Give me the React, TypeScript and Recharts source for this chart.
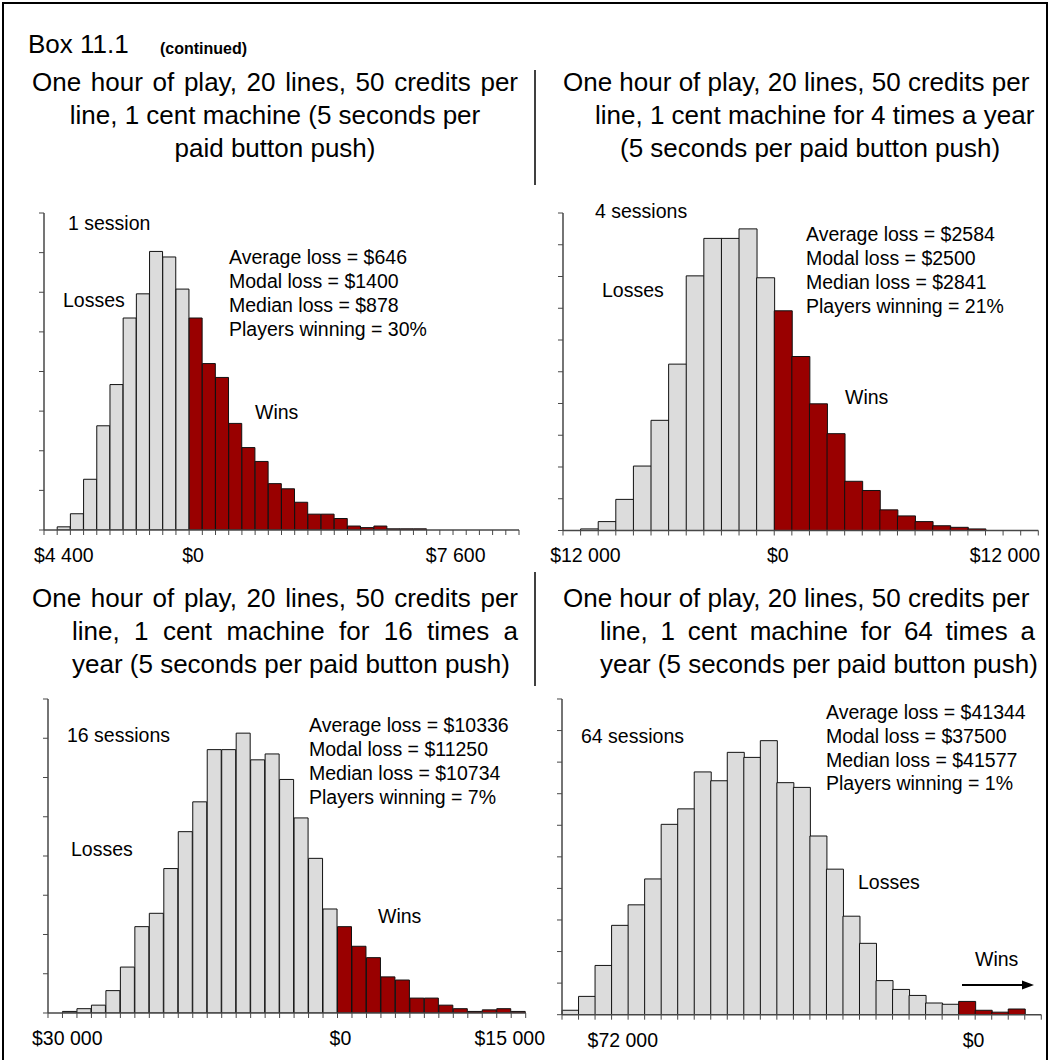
import React from "react";
import { Bar, BarChart, Cell, XAxis, YAxis } from "recharts";

const FONT = '"Liberation Sans", Arial, Helvetica, sans-serif';
const LOSS_FILL = "#dcdcdc";
const WIN_FILL = "#990000";
const AXIS = "#474747";

// bar heights per bin (units of one y tick); 0 = no bar
const oneSession = [
  0, 0.08, 0.41, 1.28, 2.63, 3.67, 5.35, 5.96, 7.03, 6.89, 6.08, 5.35, 4.2,
  3.85, 2.69, 2.08, 1.73, 1.17, 1.04, 0.7, 0.4, 0.4, 0.29, 0.1, 0.06, 0.1,
  0.03, 0.03, 0.03, 0, 0, 0, 0, 0, 0, 0,
];
const fourSessions = [
  0, 0.05, 0.28, 0.98, 2.03, 3.47, 5.24, 8.02, 9.2, 9.2, 9.5, 7.96, 6.92,
  5.48, 3.99, 3.05, 1.55, 1.26, 0.65, 0.46, 0.28, 0.15, 0.1, 0.05, 0, 0, 0,
];
const sixteenSessions = [
  0, 0.04, 0.11, 0.2, 0.57, 1.17, 2.2, 2.54, 3.68, 4.62, 5.38, 6.71, 6.71,
  7.13, 6.45, 6.6, 5.95, 4.97, 3.94, 2.65, 2.2, 1.7, 1.41, 0.92, 0.84, 0.38,
  0.38, 0.2, 0.11, 0.04, 0.08, 0.11, 0.04,
];
const sixtyFourSessions = [
  0.14, 0.58, 1.56, 2.83, 3.48, 4.3, 6.03, 6.52, 7.69, 7.41, 8.31, 8.15, 8.68,
  7.35, 7.2, 5.66, 4.61, 3.12, 2.26, 1.08, 0.8, 0.61, 0.37, 0.33, 0.42, 0.14,
  0.08, 0.18, 0,
];

// first bin that counts as a win (red)
const firstWin1 = 11;
const firstWin4 = 12;
const firstWin16 = 20;
const firstWin64 = 24;

// y ticks (no labels shown)
const yTicks8 = [0, 1, 2, 3, 4, 5, 6, 7, 8];
const yTicks10 = [0, 1, 2, 3, 4, 5, 6, 7, 8, 9, 10];

// x tick labels, positioned in bin units
const xLabels1 = [
  { at: 1.5, text: "$4 400" },
  { at: 11.3, text: "$0" },
  { at: 31.2, text: "$7 600" },
];
const xLabels4 = [
  { at: 1.27, text: "$12 000" },
  { at: 12.2, text: "$0" },
  { at: 25.1, text: "$12 000" },
];
const xLabels16 = [
  { at: 1.33, text: "$30 000" },
  { at: 20.2, text: "$0" },
  { at: 31.9, text: "$15 000" },
];
const xLabels64 = [
  { at: 3.68, text: "$72 000" },
  { at: 24.9, text: "$0" },
];

type Label = { at: number; text: string };

type PanelProps = {
  left: number;
  top: number;
  plotW: number;
  plotH: number;
  counts: number[];
  firstWin: number;
  yTicks: number[];
  labels: Label[];
};

const noText = () => "";

function Panel({ left, top, plotW, plotH, counts, firstWin, yTicks, labels }: PanelProps) {
  const yW = 8;
  const ml = 36;
  const mt = 2;
  const mr = 40;
  const nBins = counts.length;
  const rows = counts.map((v, i) => ({ bin: i, v: v > 0 ? v : null }));
  const gridTicks = counts.map((_, i) => i).concat([nBins]);
  const labelAt = labels.map((l) => l.at);

  return (
    <div style={{ position: "absolute", left: left - yW - ml, top: top - mt }}>
      <BarChart
        width={plotW + yW + ml + mr}
        height={plotH + mt + 10 + 30}
        data={rows}
        margin={{ top: mt, right: mr, bottom: 0, left: ml }}
        barCategoryGap={0}
        barGap={0}
      >
        <XAxis xAxisId="a_bins" dataKey="bin" type="category" hide height={0} />
        <XAxis
          xAxisId="b_grid"
          dataKey="bin"
          type="number"
          domain={[0, nBins]}
          ticks={gridTicks}
          allowDataOverflow
          interval={0}
          tickFormatter={noText}
          tickSize={5}
          height={10}
          axisLine={{ stroke: AXIS, strokeWidth: 1.5 }}
          tickLine={{ stroke: AXIS, strokeWidth: 1 }}
        />
        <XAxis
          xAxisId="c_labels"
          dataKey="bin"
          type="number"
          domain={[0, nBins]}
          ticks={labelAt}
          allowDataOverflow
          interval={0}
          axisLine={false}
          tickLine={false}
          height={30}
          tickFormatter={(v: number) => labels.find((l) => l.at === v)?.text ?? ""}
          tick={{ fill: "#000", fontSize: 19.5, fontFamily: FONT }}
        />
        <YAxis
          type="number"
          domain={[0, yTicks[yTicks.length - 1]]}
          ticks={yTicks}
          allowDataOverflow
          interval={0}
          tickFormatter={noText}
          tickSize={5}
          width={yW}
          axisLine={{ stroke: AXIS, strokeWidth: 1.5 }}
          tickLine={{ stroke: AXIS, strokeWidth: 1 }}
        />
        <Bar
          xAxisId="a_bins"
          dataKey="v"
          stroke="#111"
          strokeWidth={1}
          isAnimationActive={false}
        >
          {rows.map((r) => (
            <Cell key={r.bin} fill={r.bin >= firstWin ? WIN_FILL : LOSS_FILL} />
          ))}
        </Bar>
      </BarChart>
    </div>
  );
}

const titleStyle: React.CSSProperties = {
  position: "absolute",
  fontFamily: FONT,
  fontSize: 26,
  lineHeight: "32px",
  color: "#000",
};

function TitleLine({ left, y, width, text, align }: { left: number; y: number; width?: number; text: string; align?: "center" | "justify" }) {
  return (
    <div
      style={{
        ...titleStyle,
        left,
        top: y - 16,
        width,
        textAlign: align === "justify" ? "justify" : align,
        textAlignLast: align === "justify" ? "justify" : undefined,
        whiteSpace: align === "justify" ? "normal" : "nowrap",
      }}
    >
      {text}
    </div>
  );
}

type Note = { x: number; y: number; text: string };

const annotations: Note[] = [
  { x: 68, y: 230, text: "1 session" },
  { x: 63, y: 307, text: "Losses" },
  { x: 255, y: 419, text: "Wins" },
  { x: 229, y: 264, text: "Average loss = $646" },
  { x: 229, y: 288, text: "Modal loss = $1400" },
  { x: 229, y: 312, text: "Median loss = $878" },
  { x: 229, y: 336, text: "Players winning = 30%" },

  { x: 595, y: 218, text: "4 sessions" },
  { x: 602, y: 297, text: "Losses" },
  { x: 845, y: 404, text: "Wins" },
  { x: 806, y: 241, text: "Average loss = $2584" },
  { x: 806, y: 265, text: "Modal loss = $2500" },
  { x: 806, y: 289, text: "Median loss = $2841" },
  { x: 806, y: 313, text: "Players winning = 21%" },

  { x: 67, y: 742, text: "16 sessions" },
  { x: 71, y: 856, text: "Losses" },
  { x: 378, y: 923, text: "Wins" },
  { x: 309, y: 732, text: "Average loss = $10336" },
  { x: 309, y: 756, text: "Modal loss = $11250" },
  { x: 309, y: 780, text: "Median loss = $10734" },
  { x: 309, y: 804, text: "Players winning = 7%" },

  { x: 581, y: 743, text: "64 sessions" },
  { x: 858, y: 889, text: "Losses" },
  { x: 975, y: 966, text: "Wins" },
  { x: 826, y: 719, text: "Average loss = $41344" },
  { x: 826, y: 743, text: "Modal loss = $37500" },
  { x: 826, y: 767, text: "Median loss = $41577" },
  { x: 826, y: 790, text: "Players winning = 1%" },
];

export default function App() {
  return (
    <div
      style={{
        position: "absolute",
        left: 0,
        top: 0,
        width: 1050,
        height: 1060,
        background: "#fff",
        overflow: "hidden",
        fontFamily: FONT,
      }}
    >
      <Panel left={43.5} top={213} plotW={475} plotH={317} counts={oneSession} firstWin={firstWin1} yTicks={yTicks8} labels={xLabels1} />
      <Panel left={562.7} top={212.7} plotW={475.3} plotH={317.5} counts={fourSessions} firstWin={firstWin4} yTicks={yTicks10} labels={xLabels4} />
      <Panel left={48.3} top={699.3} plotW={477.7} plotH={314} counts={sixteenSessions} firstWin={firstWin16} yTicks={yTicks8} labels={xLabels16} />
      <Panel left={561.7} top={699.3} plotW={479.3} plotH={315.7} counts={sixtyFourSessions} firstWin={firstWin64} yTicks={yTicks10} labels={xLabels64} />

      <TitleLine left={32} y={82} width={486} align="justify" text="One hour of play, 20 lines, 50 credits per" />
      <TitleLine left={32} y={115} width={486} align="center" text="line, 1 cent machine (5 seconds per" />
      <TitleLine left={32} y={148} width={486} align="center" text="paid button push)" />

      <TitleLine left={563} y={82} text="One hour of play, 20 lines, 50 credits per" />
      <TitleLine left={595} y={115} text="line, 1 cent machine for 4 times a year" />
      <TitleLine left={620} y={148} text="(5 seconds per paid button push)" />

      <TitleLine left={32} y={598} width={486} align="justify" text="One hour of play, 20 lines, 50 credits per" />
      <TitleLine left={72} y={631} width={446} align="justify" text="line, 1 cent machine for 16 times a" />
      <TitleLine left={72} y={664} text="year (5 seconds per paid button push)" />

      <TitleLine left={563} y={598} text="One hour of play, 20 lines, 50 credits per" />
      <TitleLine left={600} y={631} width={435} align="justify" text="line, 1 cent machine for 64 times a" />
      <TitleLine left={600} y={664} text="year (5 seconds per paid button push)" />

      <svg
        width={1050}
        height={1060}
        style={{ position: "absolute", left: 0, top: 0, pointerEvents: "none" }}
      >
        <path d="M3 1060 V3 H1047 V1060" fill="none" stroke="#000" strokeWidth={2} />
        <line x1={535} y1={70} x2={535} y2={185} stroke="#000" strokeWidth={1.5} />
        <line x1={535} y1={572} x2={535} y2={686} stroke="#000" strokeWidth={1.5} />
        <text x={28} y={53} fontSize={26} fontFamily={FONT}>Box 11.1</text>
        <text x={160} y={54} fontSize={16} fontWeight="bold" fontFamily={FONT}>(continued)</text>
        {annotations.map((a) => (
          <text key={a.text + a.x + a.y} x={a.x} y={a.y} fontSize={19.5} fontFamily={FONT} fill="#000">
            {a.text}
          </text>
        ))}
        <line x1={962} y1={985} x2={1024} y2={985} stroke="#000" strokeWidth={2} />
        <polygon points="1034,985 1022,980.5 1022,989.5" fill="#000" />
      </svg>
    </div>
  );
}
